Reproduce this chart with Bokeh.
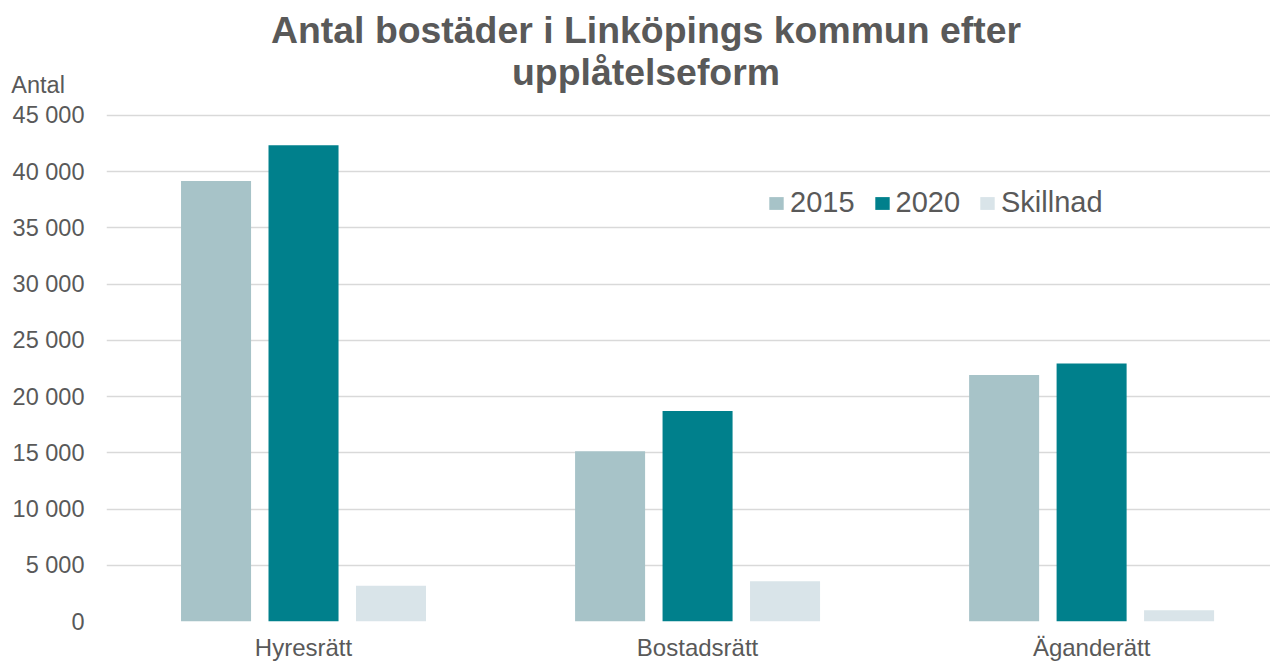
from bokeh.plotting import figure
from bokeh.models import (ColumnDataSource, Range1d, FixedTicker, Label, Legend, LegendItem)
from bokeh.embed import file_html
from bokeh.resources import INLINE

# ---- data ----
categories = ["Hyresrätt", "Bostadsrätt", "Äganderätt"]
series_names = ["2015", "2020", "Skillnad"]
values_2015 = [39170, 15130, 21930]
values_2020 = [42340, 18710, 22940]
values_diff = [3170, 3580, 1010]
y_ticks = [0, 5000, 10000, 15000, 20000, 25000, 30000, 35000, 40000, 45000]
y_tick_labels = ["0", "5 000", "10 000", "15 000", "20 000", "25 000",
                 "30 000", "35 000", "40 000", "45 000"]
title_lines = ["Antal bostäder i Linköpings kommun efter", "upplåtelseform"]
y_label = "Antal"

colors = ["#A7C3C8", "#00808C", "#D9E4E9"]
text_color = "#595959"
grid_color = "#D9D9D9"
FONT = "Liberation Sans"

centers = [i + 0.5 for i in range(len(categories))]
series_values = [values_2015, values_2020, values_diff]
offsets = [-0.222, 0.0, 0.222]

# frame spans from canvas top down to the zero line; 45 000 sits 115 px below the top
Y_END = 55220
p = figure(width=1270, height=663, output_backend="svg", toolbar_location=None,
           x_range=Range1d(0, 2.954), y_range=Range1d(0, Y_END),
           min_border_left=106, min_border_right=0, min_border_top=0,
           min_border_bottom=40)
p.outline_line_color = None
p.background_fill_color = "white"
p.border_fill_color = "white"

renderers = []
for name, vals, off, col in zip(series_names, series_values, offsets, colors):
    src = ColumnDataSource(dict(x=[c + off for c in centers], top=vals))
    r = p.vbar(x="x", top="top", width=0.1777, bottom=0, source=src,
               fill_color=col, line_color=None)
    renderers.append((name, r))

# axes (the unit caption "Antal" sits at the top of the value axis)
label_pos = Y_END * (623 - 85) / 623
p.xaxis.ticker = FixedTicker(ticks=centers)
p.xaxis.major_label_overrides = {c: lab for c, lab in zip(centers, categories)}
p.yaxis.ticker = FixedTicker(ticks=y_ticks + [label_pos])
overrides = {t: lab for t, lab in zip(y_ticks, y_tick_labels)}
overrides[label_pos] = y_label + "\u00a0\u00a0\u00a0"
p.yaxis.major_label_overrides = overrides
for ax in (p.xaxis, p.yaxis):
    ax.axis_line_color = None
    ax.major_tick_line_color = None
    ax.minor_tick_line_color = None
    ax.major_tick_out = 0
    ax.major_tick_in = 0
    ax.major_label_text_font = FONT
    ax.major_label_text_color = text_color
p.yaxis.major_label_text_font_size = "23.5px"
p.xaxis.major_label_text_font_size = "24px"
p.yaxis.major_label_standoff = 22
p.xaxis.major_label_standoff = 12

p.xgrid.grid_line_color = None
p.ygrid.ticker = FixedTicker(ticks=y_ticks)
p.ygrid.grid_line_color = grid_color
p.ygrid.grid_line_width = 1.5

# legend
legend = Legend(items=[LegendItem(label=n, renderers=[r]) for n, r in renderers],
                orientation="horizontal", location=(661, 402),
                label_text_font=FONT, label_text_font_size="29px",
                label_text_color=text_color, glyph_width=18, glyph_height=16,
                spacing=18, label_standoff=5, padding=0, margin=0,
                border_line_color=None, background_fill_alpha=0)
p.add_layout(legend, "center")

# title
p.add_layout(Label(x=539.5, y=591.5, x_units="screen", y_units="screen",
                   text=title_lines[0], text_align="center", text_baseline="alphabetic",
                   text_font=FONT, text_font_size="37.4px", text_font_style="bold",
                   text_color=text_color))
p.add_layout(Label(x=539.5, y=549.5, x_units="screen", y_units="screen",
                   text=title_lines[1], text_align="center", text_baseline="alphabetic",
                   text_font=FONT, text_font_size="37.4px", text_font_style="bold",
                   text_color=text_color))

open("out.html", "w").write(file_html(p, INLINE))
